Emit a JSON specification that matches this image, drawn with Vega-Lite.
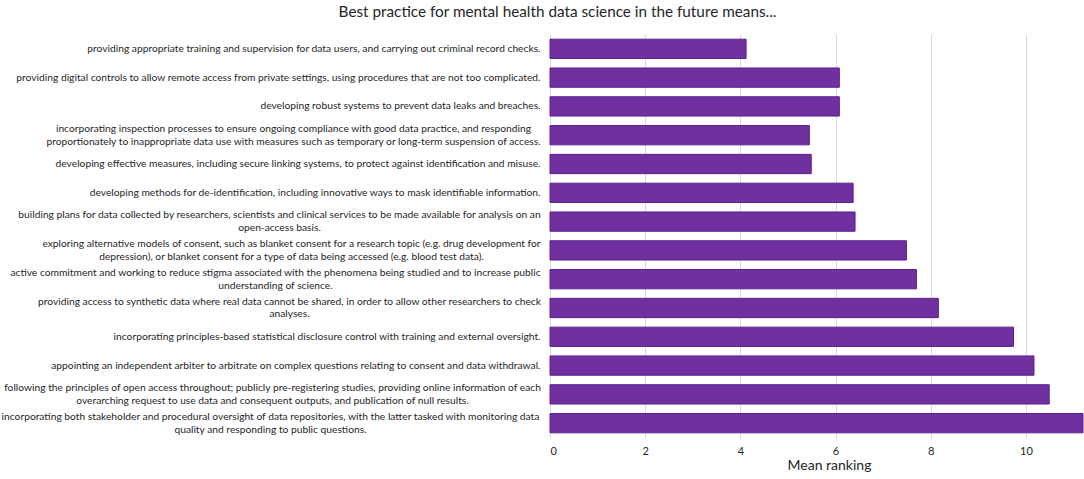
{
  "$schema": "https://vega.github.io/schema/vega-lite/v6.json",
  "width": 533,
  "height": 404,
  "autosize": {"type": "none"},
  "padding": {"left": 550, "top": 34, "right": 1, "bottom": 41},
  "background": "white",
  "title": {
    "text": "Best practice for mental health data science in the future means...",
    "anchor": "middle",
    "frame": "group",
    "dx": -259,
    "offset": 14,
    "font": "Lato",
    "fontSize": 15.3,
    "fontWeight": "normal",
    "color": "#262626"
  },
  "data": {
    "values": [
      {"item": "providing appropriate training and supervision for data users, and carrying out criminal record checks.", "mean": 4.12},
      {"item": "providing digital controls to allow remote access from private settings, using procedures that are not too complicated.", "mean": 6.08},
      {"item": "developing robust systems to prevent data leaks and breaches.", "mean": 6.08},
      {"item": "incorporating inspection processes to ensure ongoing compliance with good data practice, and responding|proportionately to inappropriate data use with measures such as temporary or long-term suspension of access.", "mean": 5.45},
      {"item": "developing effective measures, including secure linking systems, to protect against identification and misuse.", "mean": 5.49},
      {"item": "developing methods for de-identification, including innovative ways to mask identifiable information.", "mean": 6.37},
      {"item": "building plans for data collected by researchers, scientists and clinical services to be made available for analysis on an|open-access basis.", "mean": 6.41},
      {"item": "exploring alternative models of consent, such as blanket consent for a research topic (e.g. drug development for|depression), or blanket consent for a type of data being accessed (e.g. blood test data).", "mean": 7.49},
      {"item": "active commitment and working to reduce stigma associated with the phenomena being studied and to increase public|understanding of science.", "mean": 7.7},
      {"item": "providing access to synthetic data where real data cannot be shared, in order to allow other researchers to check|analyses.", "mean": 8.16},
      {"item": "incorporating principles-based statistical disclosure control with training and external oversight.", "mean": 9.74},
      {"item": "appointing an independent arbiter to arbitrate on complex questions relating to consent and data withdrawal.", "mean": 10.17},
      {"item": "following the principles of open access throughout; publicly pre-registering studies, providing online information of each|overarching request to use data and consequent outputs, and publication of null results.", "mean": 10.49},
      {"item": "incorporating both stakeholder and procedural oversight of data repositories, with the latter tasked with monitoring data|quality and responding to public questions.", "mean": 11.2}
    ]
  },
  "mark": {"type": "bar", "fill": "#7030A0", "stroke": "#5B2290", "strokeWidth": 1},
  "encoding": {
    "y": {
      "field": "item",
      "type": "nominal",
      "sort": null,
      "scale": {"paddingInner": 0.33, "paddingOuter": 0.18},
      "axis": {
        "title": null,
        "labelExpr": "split(datum.label, '|')",
        "labelAlign": {"condition": {"test": "indexof(datum.value, '|') >= 0", "value": "center"}, "value": "right"},
        "labelOffset": {"condition": {"test": "indexof(datum.value, '|') >= 0", "value": -6.3}, "value": 0},
        "labelPadding": {
          "condition": [
            {"test": "indexof(datum.value, 'incorporating inspection') == 0", "value": 257},
            {"test": "indexof(datum.value, 'building plans') == 0", "value": 271},
            {"test": "indexof(datum.value, 'exploring alternative') == 0", "value": 259},
            {"test": "indexof(datum.value, 'active commitment') == 0", "value": 275},
            {"test": "indexof(datum.value, 'providing access to synthetic') == 0", "value": 261},
            {"test": "indexof(datum.value, 'following the principles') == 0", "value": 278},
            {"test": "indexof(datum.value, 'incorporating both') == 0", "value": 280}
          ],
          "value": 10
        },
        "ticks": false,
        "domain": false,
        "grid": false,
        "labelFont": "Lato",
        "labelFontSize": 10.25,
        "labelColor": "#262626",
        "labelLimit": 700,
        "labelLineHeight": 12.7
      }
    },
    "x": {
      "field": "mean",
      "type": "quantitative",
      "scale": {"domain": [0, 11.2], "nice": false},
      "axis": {
        "values": [0, 2, 4, 6, 8, 10],
        "title": "Mean ranking",
        "titleFont": "Lato",
        "titleFontSize": 14,
        "titleFontWeight": "normal",
        "titleColor": "#262626",
        "titlePadding": 2,
        "titleX": 279,
        "labelFont": "Lato",
        "labelFontSize": 11,
        "labelColor": "#262626",
        "labelPadding": 7,
        "ticks": false,
        "domain": false,
        "grid": true,
        "gridColor": "#D9D9D9"
      }
    }
  },
  "config": {"view": {"stroke": null}}
}
